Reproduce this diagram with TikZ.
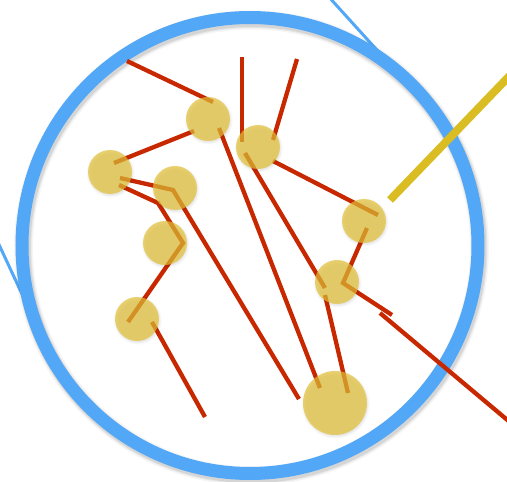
\documentclass[tikz,border=0pt]{standalone}
\usetikzlibrary{backgrounds,calc,shadows.blur}
\definecolor{ringblue}{RGB}{82,168,246}
\definecolor{fibrered}{RGB}{200,40,0}
\definecolor{grainyellow}{RGB}{228,193,53}
\definecolor{rodyellow}{RGB}{218,188,35}

\begin{document}
\begin{tikzpicture}[x=1pt, y=-1pt,
    grain/.style={circle, fill=grainyellow, fill opacity=0.7, minimum size=44pt, inner sep=0pt,
        blur shadow={shadow xshift=0.8pt, shadow yshift=-1.5pt, shadow blur radius=2.5pt, shadow opacity=18}},
    fibre/.style={draw=fibrered, line width=4.3pt},
    ]
    \useasboundingbox (0,0) rectangle (507,482);

    % grains
    \node[grain] (gA) at (208,119) {};
    \node[grain] (gB) at (258,147) {};
    \node[grain] (gC) at (110,172) {};
    \node[grain] (gD) at (175,188) {};
    \node[grain] (gE) at (165,243) {};
    \node[grain] (gF) at (364,221) {};
    \node[grain] (gG) at (337,282) {};
    \node[grain] (gH) at (137,319) {};
    \node[grain, minimum size=64pt] (gI) at (335,403) {};

    % free ends
    \coordinate (topL) at (127,61);
    \coordinate (topM) at (242,57);
    \coordinate (topR) at (297,59);
    \coordinate (kinkG) at (392,315);
    \coordinate (tailG) at (380,313);
    \coordinate (outG) at (530,439);
    \coordinate (endD) at (299,399);
    \coordinate (endH) at (205,417);
    \coordinate (rodA) at (390,200);
    \coordinate (rodB) at (520,65);
    \coordinate (tanA) at (328,-4);
    \coordinate (tanB) at (395,70);
    \coordinate (tanC) at (-5,236);
    \coordinate (tanD) at (22,294);

    \begin{pgfonlayer}{background}
        \draw[ringblue, line width=3pt] (tanA) -- (tanB);
        \draw[ringblue, line width=3pt] (tanC) -- (tanD);
        % ring with soft shadow
        \foreach \w/\o in {19/0.04, 16/0.06, 14/0.08}
            \draw[black, opacity=\o, line width=\w pt] (251.5,248) circle[radius=228];
        \draw[ringblue, line width=13pt] (250,245.5) circle[radius=228];
        \draw[rodyellow, line width=8pt] (rodA) -- (rodB);

        \draw[fibre] (topL) -- ($(gA)+(5,-17)$);
        \draw[fibre] ($(gA)+(-14,12)$) -- ($(gC)+(4,-9)$);
        \draw[fibre] ($(gA)+(11,9)$) -- ($(gI)+(-15,-15)$);
        \draw[fibre] (topM) -- ($(gB)+(-16,-5)$);
        \draw[fibre] (topR) -- ($(gB)+(15,-7)$);
        \draw[fibre] ($(gB)+(15,14)$) -- ($(gF)+(14,-6)$);
        \draw[fibre] ($(gB)+(-13,6)$) -- ($(gG)+(-12,6)$);
        \draw[fibre] ($(gG)+(-12,13)$) -- ($(gI)+(13,-10)$);
        \draw[fibre] ($(gF)+(3,7)$) -- ($(gG)+(6,1)$) -- (kinkG);
        \draw[fibre] (tailG) -- (outG);
        \draw[fibre] ($(gC)+(10,6)$) -- ($(gD)+(-2,2)$) -- (endD);
        \draw[fibre] ($(gC)+(9,13)$) -- ($(gD)+(-17,15)$) -- ($(gE)+(18,0)$) -- ($(gH)+(-9,3)$);
        \draw[fibre] ($(gH)+(15,3)$) -- (endH);
    \end{pgfonlayer}
\end{tikzpicture}
\end{document}
